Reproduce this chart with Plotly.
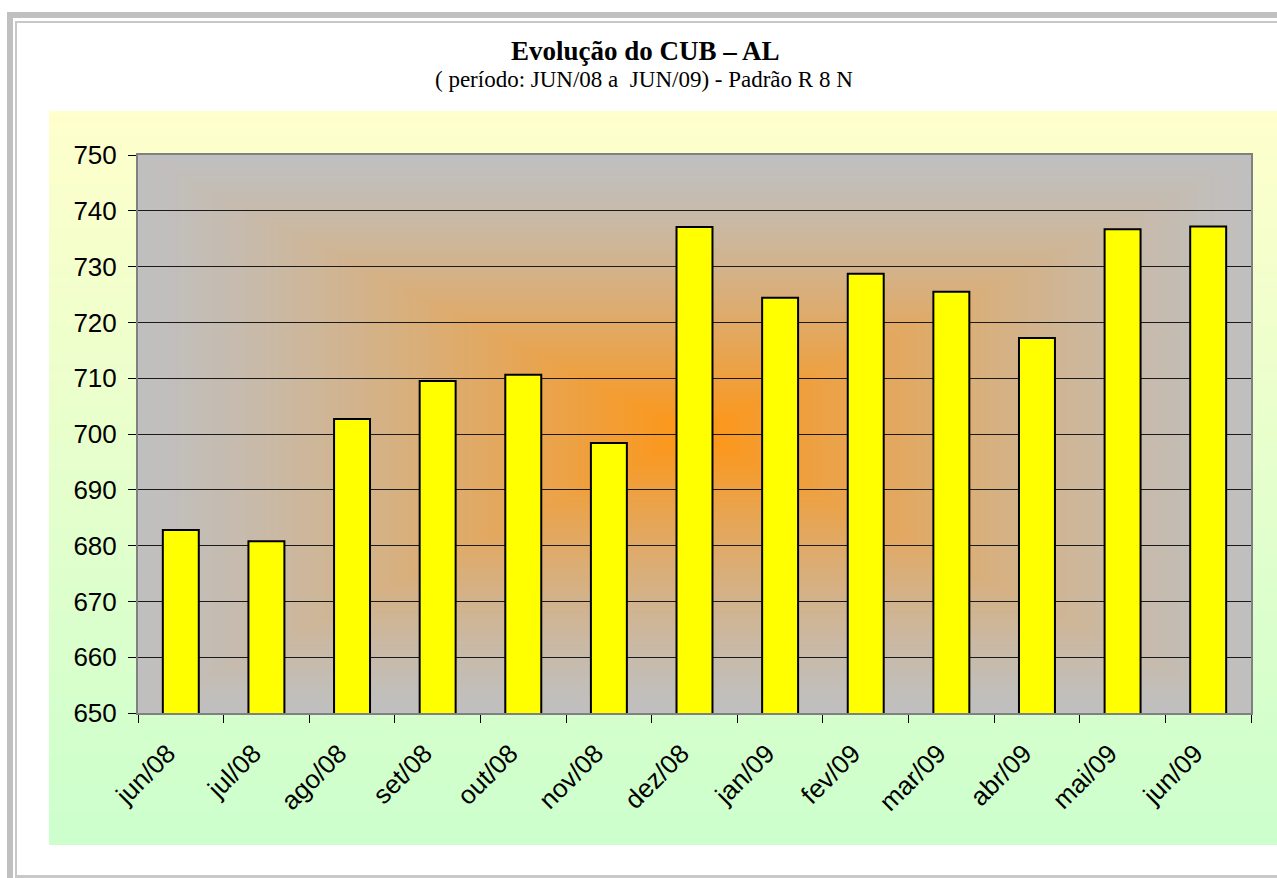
import base64, struct, zlib
import numpy as np
import plotly.graph_objects as go

# ---------------- data ----------------
categories = ["jun/08", "jul/08", "ago/08", "set/08", "out/08", "nov/08", "dez/08",
              "jan/09", "fev/09", "mar/09", "abr/09", "mai/09", "jun/09"]
values = [682.8, 680.8, 702.7, 709.5, 710.6, 698.4, 737.1,
          724.4, 728.7, 725.5, 717.2, 736.7, 737.2]
y_ticks = [650, 660, 670, 680, 690, 700, 710, 720, 730, 740, 750]
title_text = "<b>Evolução do CUB – AL</b>"
subtitle_text = "( período: JUN/08 a  JUN/09) - Padrão R 8 N"

# ---------------- geometry ----------------
W, H = 1277, 878
L, R, T, B = 138, 1251, 155, 713
PW, PH = R - L, B - T


def px(x):
    return (x - L) / PW


def py(y):
    return (B - y) / PH


def png_uri(arr):
    arr = np.ascontiguousarray(arr.astype(np.uint8))
    h, w, _ = arr.shape
    raw = b"".join(b"\x00" + arr[i].tobytes() for i in range(h))

    def chunk(tag, data):
        c = struct.pack(">I", len(data)) + tag + data
        return c + struct.pack(">I", zlib.crc32(tag + data) & 0xFFFFFFFF)

    png = b"\x89PNG\r\n\x1a\n" + chunk(b"IHDR", struct.pack(">IIBBBBB", w, h, 8, 2, 0, 0, 0)) \
        + chunk(b"IDAT", zlib.compress(raw, 9)) + chunk(b"IEND", b"")
    return "data:image/png;base64," + base64.b64encode(png).decode()


# chart-area vertical gradient (light yellow -> light green)
gh = 200
t = np.linspace(0, 1, gh)[:, None]
top = np.array([255, 255, 204])
bot = np.array([204, 255, 204])
col = top[None, :] * (1 - t) + bot[None, :] * t
area_img = np.repeat(col[:, None, :], 4, axis=1)

# plot-area rectangular "from centre" gradient (orange centre -> grey edges)
iw, ih = 556, 279
xs = np.linspace(-1, 1, iw)[None, :]
ys = np.linspace(-1, 1, ih)[:, None]
tt = np.maximum(np.abs(xs), np.abs(ys))
f = np.clip(1 - tt, 0, 1) ** 1.3
centre = np.array([255, 150, 20])
edge = np.array([192, 192, 192])
plot_img = edge[None, None, :] * (1 - f[..., None]) + centre[None, None, :] * f[..., None]

fig = go.Figure()
fig.add_trace(go.Bar(
    x=categories, y=values,
    marker=dict(color="#FFFF00", line=dict(color="#000000", width=2)),
    hoverinfo="x+y",
))

images = [
    dict(source=png_uri(area_img), xref="paper", yref="paper",
         x=px(49), y=py(111), sizex=(W - 49) / PW, sizey=(845 - 111) / PH,
         xanchor="left", yanchor="top", sizing="stretch", layer="below"),
    dict(source=png_uri(plot_img), xref="paper", yref="paper",
         x=0, y=1, sizex=1, sizey=1,
         xanchor="left", yanchor="top", sizing="stretch", layer="below"),
]

frame_grey = "#C0C0C0"
shapes = [
    dict(type="rect", xref="paper", yref="paper", x0=px(7), x1=px(W + 5), y0=py(12), y1=py(18),
         fillcolor=frame_grey, line=dict(width=0), layer="below"),
    dict(type="rect", xref="paper", yref="paper", x0=px(7), x1=px(13), y0=py(12), y1=py(H + 5),
         fillcolor=frame_grey, line=dict(width=0), layer="below"),
    dict(type="line", xref="paper", yref="paper", x0=px(16), x1=px(W + 5), y0=py(22), y1=py(22),
         line=dict(color="#C8C8C8", width=2), layer="below"),
    dict(type="line", xref="paper", yref="paper", x0=px(16), x1=px(16), y0=py(21), y1=py(H + 5),
         line=dict(color="#C8C8C8", width=2), layer="below"),
    dict(type="line", xref="paper", yref="paper", x0=px(16), x1=px(W + 5), y0=py(876.5), y1=py(876.5),
         line=dict(color="#C8C8C8", width=3), layer="below"),
]

annotations = [
    dict(text=title_text, xref="paper", yref="paper", x=px(645), y=py(51),
         xanchor="center", yanchor="middle", showarrow=False,
         font=dict(family="Liberation Serif", size=27, color="#000000")),
    dict(text=subtitle_text, xref="paper", yref="paper", x=px(644), y=py(79),
         xanchor="center", yanchor="middle", showarrow=False,
         font=dict(family="Liberation Serif", size=23, color="#000000")),
]

fig.update_layout(
    width=W, height=H,
    margin=dict(l=L, r=W - R, t=T, b=H - B, pad=0),
    paper_bgcolor="#FFFFFF",
    plot_bgcolor="rgba(0,0,0,0)",
    bargap=0.58,
    showlegend=False,
    images=images,
    shapes=shapes,
    annotations=annotations,
    font=dict(family="Liberation Sans", size=26, color="#000000"),
)
fig.update_xaxes(
    type="category", tickson="boundaries", ticks="outside", ticklen=8, tickcolor="#000000",
    tickangle=-45, tickfont=dict(family="Liberation Sans", size=26, color="#000000"),
    showline=True, linecolor="#808080", linewidth=2, mirror=True,
    showgrid=False, ticklabelstandoff=13, ticklabelshift=-13,
)
fig.update_yaxes(
    range=[650, 750], tickvals=y_ticks, ticks="outside", ticklen=8, tickcolor="#000000",
    tickfont=dict(family="Liberation Sans", size=26, color="#000000"),
    showline=True, linecolor="#808080", linewidth=2, mirror=True,
    showgrid=True, gridcolor="#1a1a1a", gridwidth=1, zeroline=False,
    ticklabelstandoff=6,
)

fig.write_html(
    "out.html",
    config={"displayModeBar": False},
    post_script="document.body.style.margin='0';document.body.style.overflow='hidden';",
)
